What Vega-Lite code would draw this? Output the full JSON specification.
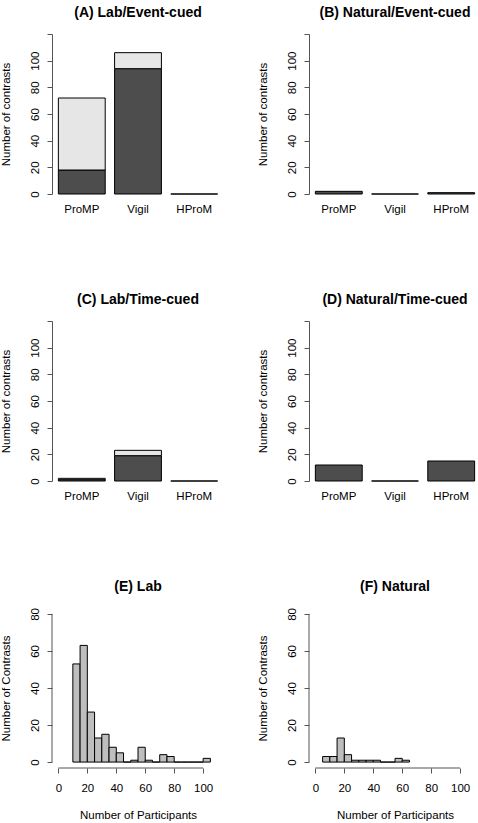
{
  "$schema": "https://vega.github.io/schema/vega-lite/v6.json",
  "background": "white",
  "padding": {"left": 0, "top": 5, "right": 0, "bottom": 0},
  "config": {
    "font": "Liberation Sans",
    "view": {"stroke": null},
    "axis": {
      "labelFont": "Liberation Sans", "labelFontSize": 11.5, "labelColor": "black",
      "titleFont": "Liberation Sans", "titleFontSize": 11.5, "titleFontWeight": "normal", "titleColor": "black",
      "domainColor": "#555", "tickColor": "#555", "grid": false, "labelFlush": false, "labelOverlap": false
    },
    "title": {"font": "Liberation Sans", "fontSize": 14, "fontWeight": "bold", "color": "black", "anchor": "middle", "baseline": "alphabetic", "offset": 14}
  },
  "datasets": {
    "bars": [
      {"panel": "A", "task": "ProMP", "part": "lower", "n": 18},
      {"panel": "A", "task": "ProMP", "part": "upper", "n": 54},
      {"panel": "A", "task": "Vigil", "part": "lower", "n": 94},
      {"panel": "A", "task": "Vigil", "part": "upper", "n": 12},
      {"panel": "A", "task": "HProM", "part": "lower", "n": 0},
      {"panel": "B", "task": "ProMP", "part": "lower", "n": 2},
      {"panel": "B", "task": "Vigil", "part": "lower", "n": 0},
      {"panel": "B", "task": "HProM", "part": "lower", "n": 1},
      {"panel": "C", "task": "ProMP", "part": "lower", "n": 1},
      {"panel": "C", "task": "ProMP", "part": "upper", "n": 1},
      {"panel": "C", "task": "Vigil", "part": "lower", "n": 19},
      {"panel": "C", "task": "Vigil", "part": "upper", "n": 4},
      {"panel": "C", "task": "HProM", "part": "lower", "n": 0},
      {"panel": "D", "task": "ProMP", "part": "lower", "n": 12},
      {"panel": "D", "task": "Vigil", "part": "lower", "n": 0},
      {"panel": "D", "task": "HProM", "part": "lower", "n": 15}
    ],
    "hist": [
      {"panel": "E", "start": 10, "end": 15, "count": 53},
      {"panel": "E", "start": 15, "end": 20, "count": 63},
      {"panel": "E", "start": 20, "end": 25, "count": 27},
      {"panel": "E", "start": 25, "end": 30, "count": 13},
      {"panel": "E", "start": 30, "end": 35, "count": 15},
      {"panel": "E", "start": 35, "end": 40, "count": 8},
      {"panel": "E", "start": 40, "end": 45, "count": 5},
      {"panel": "E", "start": 45, "end": 50, "count": 0},
      {"panel": "E", "start": 50, "end": 55, "count": 1},
      {"panel": "E", "start": 55, "end": 60, "count": 8},
      {"panel": "E", "start": 60, "end": 65, "count": 1},
      {"panel": "E", "start": 65, "end": 70, "count": 0},
      {"panel": "E", "start": 70, "end": 75, "count": 4},
      {"panel": "E", "start": 75, "end": 80, "count": 3},
      {"panel": "E", "start": 80, "end": 85, "count": 0},
      {"panel": "E", "start": 85, "end": 90, "count": 0},
      {"panel": "E", "start": 90, "end": 95, "count": 0},
      {"panel": "E", "start": 95, "end": 100, "count": 0},
      {"panel": "E", "start": 100, "end": 105, "count": 2},
      {"panel": "F", "start": 5, "end": 10, "count": 3},
      {"panel": "F", "start": 10, "end": 15, "count": 3},
      {"panel": "F", "start": 15, "end": 20, "count": 13},
      {"panel": "F", "start": 20, "end": 25, "count": 4},
      {"panel": "F", "start": 25, "end": 30, "count": 1},
      {"panel": "F", "start": 30, "end": 35, "count": 1},
      {"panel": "F", "start": 35, "end": 40, "count": 1},
      {"panel": "F", "start": 40, "end": 45, "count": 1},
      {"panel": "F", "start": 45, "end": 50, "count": 0},
      {"panel": "F", "start": 50, "end": 55, "count": 0},
      {"panel": "F", "start": 55, "end": 60, "count": 2},
      {"panel": "F", "start": 60, "end": 65, "count": 1}
    ]
  },
  "columns": 2,
  "bounds": "flush",
  "spacing": {"row": 127, "column": 85},
  "concat": [
    {
      "width": 172, "height": 160,
      "title": "(A)  Lab/Event-cued",
      "data": {"name": "bars"},
      "transform": [{"filter": "datum.panel === 'A'"}],
      "mark": {"type": "bar", "stroke": "black", "strokeWidth": 1},
      "encoding": {
        "x": {"field": "task", "type": "nominal", "sort": ["ProMP", "Vigil", "HProM"], "scale": {"paddingInner": 0.1667, "paddingOuter": 0.1133}, "axis": {"title": null, "domain": false, "ticks": false, "tickSize": 0, "labelAngle": 0, "labelPadding": 9, "labelBaseline": "top", "labelOverlap": false}},
        "y": {"field": "n", "type": "quantitative", "stack": "zero", "scale": {"domain": [0, 120], "nice": false}, "axis": {"values": [0, 20, 40, 60, 80, 100, 120], "labelExpr": "datum.value == 120 ? '' : datum.label", "labelOverlap": false, "title": "Number of contrasts", "tickSize": 5, "labelAngle": 270, "labelAlign": "center", "labelBaseline": "alphabetic", "labelPadding": 9, "titleAngle": 270, "titleAlign": "center", "titleBaseline": "alphabetic", "titleX": -43, "titleY": 80}},
        "color": {"field": "part", "type": "nominal", "scale": {"domain": ["lower", "upper"], "range": ["#4d4d4d", "#e6e6e6"]}, "legend": null},
        "order": {"field": "part", "sort": "ascending"}
      }
    },
    {
      "width": 172, "height": 160,
      "title": "(B)  Natural/Event-cued",
      "data": {"name": "bars"},
      "transform": [{"filter": "datum.panel === 'B'"}],
      "mark": {"type": "bar", "stroke": "black", "strokeWidth": 1},
      "encoding": {
        "x": {"field": "task", "type": "nominal", "sort": ["ProMP", "Vigil", "HProM"], "scale": {"paddingInner": 0.1667, "paddingOuter": 0.1133}, "axis": {"title": null, "domain": false, "ticks": false, "tickSize": 0, "labelAngle": 0, "labelPadding": 9, "labelBaseline": "top", "labelOverlap": false}},
        "y": {"field": "n", "type": "quantitative", "stack": "zero", "scale": {"domain": [0, 120], "nice": false}, "axis": {"values": [0, 20, 40, 60, 80, 100, 120], "labelExpr": "datum.value == 120 ? '' : datum.label", "labelOverlap": false, "title": "Number of contrasts", "tickSize": 5, "labelAngle": 270, "labelAlign": "center", "labelBaseline": "alphabetic", "labelPadding": 9, "titleAngle": 270, "titleAlign": "center", "titleBaseline": "alphabetic", "titleX": -43, "titleY": 80}},
        "color": {"field": "part", "type": "nominal", "scale": {"domain": ["lower", "upper"], "range": ["#4d4d4d", "#e6e6e6"]}, "legend": null},
        "order": {"field": "part", "sort": "ascending"}
      }
    },
    {
      "width": 172, "height": 160,
      "title": "(C)  Lab/Time-cued",
      "data": {"name": "bars"},
      "transform": [{"filter": "datum.panel === 'C'"}],
      "mark": {"type": "bar", "stroke": "black", "strokeWidth": 1},
      "encoding": {
        "x": {"field": "task", "type": "nominal", "sort": ["ProMP", "Vigil", "HProM"], "scale": {"paddingInner": 0.1667, "paddingOuter": 0.1133}, "axis": {"title": null, "domain": false, "ticks": false, "tickSize": 0, "labelAngle": 0, "labelPadding": 9, "labelBaseline": "top", "labelOverlap": false}},
        "y": {"field": "n", "type": "quantitative", "stack": "zero", "scale": {"domain": [0, 120], "nice": false}, "axis": {"values": [0, 20, 40, 60, 80, 100, 120], "labelExpr": "datum.value == 120 ? '' : datum.label", "labelOverlap": false, "title": "Number of contrasts", "tickSize": 5, "labelAngle": 270, "labelAlign": "center", "labelBaseline": "alphabetic", "labelPadding": 9, "titleAngle": 270, "titleAlign": "center", "titleBaseline": "alphabetic", "titleX": -43, "titleY": 80}},
        "color": {"field": "part", "type": "nominal", "scale": {"domain": ["lower", "upper"], "range": ["#4d4d4d", "#e6e6e6"]}, "legend": null},
        "order": {"field": "part", "sort": "ascending"}
      }
    },
    {
      "width": 172, "height": 160,
      "title": "(D)  Natural/Time-cued",
      "data": {"name": "bars"},
      "transform": [{"filter": "datum.panel === 'D'"}],
      "mark": {"type": "bar", "stroke": "black", "strokeWidth": 1},
      "encoding": {
        "x": {"field": "task", "type": "nominal", "sort": ["ProMP", "Vigil", "HProM"], "scale": {"paddingInner": 0.1667, "paddingOuter": 0.1133}, "axis": {"title": null, "domain": false, "ticks": false, "tickSize": 0, "labelAngle": 0, "labelPadding": 9, "labelBaseline": "top", "labelOverlap": false}},
        "y": {"field": "n", "type": "quantitative", "stack": "zero", "scale": {"domain": [0, 120], "nice": false}, "axis": {"values": [0, 20, 40, 60, 80, 100, 120], "labelExpr": "datum.value == 120 ? '' : datum.label", "labelOverlap": false, "title": "Number of contrasts", "tickSize": 5, "labelAngle": 270, "labelAlign": "center", "labelBaseline": "alphabetic", "labelPadding": 9, "titleAngle": 270, "titleAlign": "center", "titleBaseline": "alphabetic", "titleX": -43, "titleY": 80}},
        "color": {"field": "part", "type": "nominal", "scale": {"domain": ["lower", "upper"], "range": ["#4d4d4d", "#e6e6e6"]}, "legend": null},
        "order": {"field": "part", "sort": "ascending"}
      }
    },
    {
      "width": 172, "height": 160,
      "title": "(E)  Lab",
      "data": {"name": "hist"},
      "transform": [{"filter": "datum.panel === 'E'"}],
      "layer": [
        {
          "mark": {"type": "bar", "fill": "#bebebe", "stroke": "black", "strokeWidth": 1},
          "encoding": {
            "x": {"field": "start", "type": "quantitative", "scale": {"domain": [-4.4, 114.4], "nice": false, "zero": false}, "axis": {"values": [0, 20, 40, 60, 80, 100], "labelOverlap": false, "domain": false, "tickSize": 5, "labelPadding": 9, "labelBaseline": "top", "title": "Number of Participants", "titleX": 86, "titleY": 50, "titleBaseline": "alphabetic", "titleAlign": "center"}},
            "x2": {"field": "end"},
            "y": {"field": "count", "type": "quantitative", "scale": {"domain": [-3.2, 83.2], "nice": false, "zero": false}, "axis": {"values": [0, 20, 40, 60, 80], "labelOverlap": false, "domain": false, "title": "Number of Contrasts", "tickSize": 5, "labelAngle": 270, "labelAlign": "center", "labelBaseline": "alphabetic", "labelPadding": 9, "titleAngle": 270, "titleAlign": "center", "titleBaseline": "alphabetic", "titleX": -43, "titleY": 80}},
            "y2": {"datum": 0}
          }
        },
        {
          "data": {"values": [{}]},
          "mark": {"type": "rule", "color": "#555", "strokeWidth": 1},
          "encoding": {
            "x": {"datum": 0, "type": "quantitative", "axis": {"values": [0, 20, 40, 60, 80, 100], "labelOverlap": false, "domain": false, "tickSize": 5, "labelPadding": 9, "labelBaseline": "top", "title": "Number of Participants", "titleX": 86, "titleY": 50, "titleBaseline": "alphabetic", "titleAlign": "center"}},
            "x2": {"datum": 100},
            "y": {"datum": -3.2, "type": "quantitative", "axis": {"values": [0, 20, 40, 60, 80], "labelOverlap": false, "domain": false, "title": "Number of Contrasts", "tickSize": 5, "labelAngle": 270, "labelAlign": "center", "labelBaseline": "alphabetic", "labelPadding": 9, "titleAngle": 270, "titleAlign": "center", "titleBaseline": "alphabetic", "titleX": -43, "titleY": 80}}
          }
        },
        {
          "data": {"values": [{}]},
          "mark": {"type": "rule", "color": "#555", "strokeWidth": 1},
          "encoding": {
            "x": {"datum": -4.4, "type": "quantitative", "axis": {"values": [0, 20, 40, 60, 80, 100], "labelOverlap": false, "domain": false, "tickSize": 5, "labelPadding": 9, "labelBaseline": "top", "title": "Number of Participants", "titleX": 86, "titleY": 50, "titleBaseline": "alphabetic", "titleAlign": "center"}},
            "y": {"datum": 0, "type": "quantitative", "axis": {"values": [0, 20, 40, 60, 80], "labelOverlap": false, "domain": false, "title": "Number of Contrasts", "tickSize": 5, "labelAngle": 270, "labelAlign": "center", "labelBaseline": "alphabetic", "labelPadding": 9, "titleAngle": 270, "titleAlign": "center", "titleBaseline": "alphabetic", "titleX": -43, "titleY": 80}},
            "y2": {"datum": 80}
          }
        }
      ]
    },
    {
      "width": 172, "height": 160,
      "title": "(F)  Natural",
      "data": {"name": "hist"},
      "transform": [{"filter": "datum.panel === 'F'"}],
      "layer": [
        {
          "mark": {"type": "bar", "fill": "#bebebe", "stroke": "black", "strokeWidth": 1},
          "encoding": {
            "x": {"field": "start", "type": "quantitative", "scale": {"domain": [-4.4, 114.4], "nice": false, "zero": false}, "axis": {"values": [0, 20, 40, 60, 80, 100], "labelOverlap": false, "domain": false, "tickSize": 5, "labelPadding": 9, "labelBaseline": "top", "title": "Number of Participants", "titleX": 86, "titleY": 50, "titleBaseline": "alphabetic", "titleAlign": "center"}},
            "x2": {"field": "end"},
            "y": {"field": "count", "type": "quantitative", "scale": {"domain": [-3.2, 83.2], "nice": false, "zero": false}, "axis": {"values": [0, 20, 40, 60, 80], "labelOverlap": false, "domain": false, "title": "Number of Contrasts", "tickSize": 5, "labelAngle": 270, "labelAlign": "center", "labelBaseline": "alphabetic", "labelPadding": 9, "titleAngle": 270, "titleAlign": "center", "titleBaseline": "alphabetic", "titleX": -43, "titleY": 80}},
            "y2": {"datum": 0}
          }
        },
        {
          "data": {"values": [{}]},
          "mark": {"type": "rule", "color": "#555", "strokeWidth": 1},
          "encoding": {
            "x": {"datum": 0, "type": "quantitative", "axis": {"values": [0, 20, 40, 60, 80, 100], "labelOverlap": false, "domain": false, "tickSize": 5, "labelPadding": 9, "labelBaseline": "top", "title": "Number of Participants", "titleX": 86, "titleY": 50, "titleBaseline": "alphabetic", "titleAlign": "center"}},
            "x2": {"datum": 100},
            "y": {"datum": -3.2, "type": "quantitative", "axis": {"values": [0, 20, 40, 60, 80], "labelOverlap": false, "domain": false, "title": "Number of Contrasts", "tickSize": 5, "labelAngle": 270, "labelAlign": "center", "labelBaseline": "alphabetic", "labelPadding": 9, "titleAngle": 270, "titleAlign": "center", "titleBaseline": "alphabetic", "titleX": -43, "titleY": 80}}
          }
        },
        {
          "data": {"values": [{}]},
          "mark": {"type": "rule", "color": "#555", "strokeWidth": 1},
          "encoding": {
            "x": {"datum": -4.4, "type": "quantitative", "axis": {"values": [0, 20, 40, 60, 80, 100], "labelOverlap": false, "domain": false, "tickSize": 5, "labelPadding": 9, "labelBaseline": "top", "title": "Number of Participants", "titleX": 86, "titleY": 50, "titleBaseline": "alphabetic", "titleAlign": "center"}},
            "y": {"datum": 0, "type": "quantitative", "axis": {"values": [0, 20, 40, 60, 80], "labelOverlap": false, "domain": false, "title": "Number of Contrasts", "tickSize": 5, "labelAngle": 270, "labelAlign": "center", "labelBaseline": "alphabetic", "labelPadding": 9, "titleAngle": 270, "titleAlign": "center", "titleBaseline": "alphabetic", "titleX": -43, "titleY": 80}},
            "y2": {"datum": 80}
          }
        }
      ]
    }
  ]
}
